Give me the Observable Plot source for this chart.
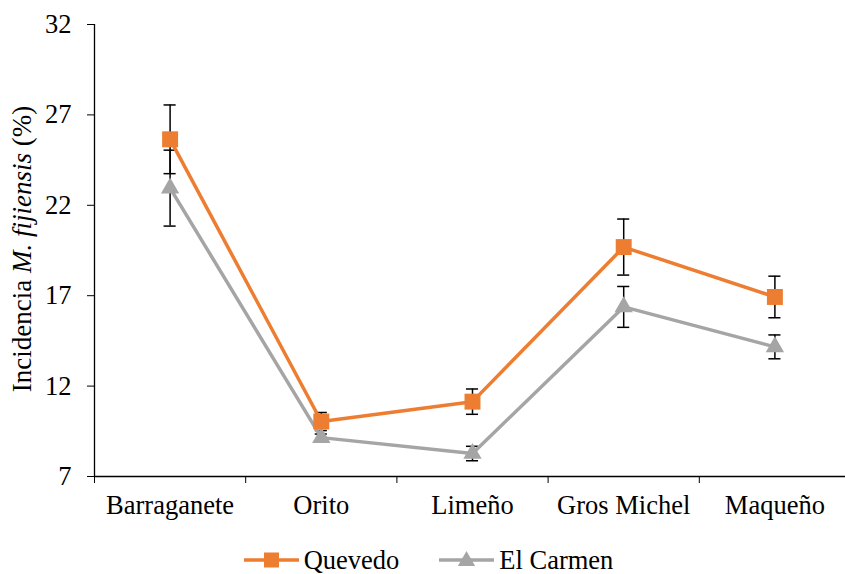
<!DOCTYPE html>
<html>
<head>
<meta charset="utf-8">
<script src="https://cdn.jsdelivr.net/npm/d3@7"></script>
<script src="https://cdn.jsdelivr.net/npm/@observablehq/plot@0.6"></script>
<style>
  html, body { margin: 0; padding: 0; background: #fff; }
  #chart { width: 845px; }
  .legend { display: flex; justify-content: center; align-items: center; gap: 40px; height: 30px; line-height: 1;
    font-family: "Liberation Serif", "Times New Roman", serif; font-size: 26.5px; color: #000; margin-left: 12px; }
  .legend .item { display: flex; align-items: center; gap: 5px; }
</style>
</head>
<body>
<div id="chart"></div>
<script>
const categories = ["Barraganete", "Orito", "Limeño", "Gros Michel", "Maqueño"];
const quevedo = [25.65, 10.04, 11.14, 19.69, 16.93];
const quevedoErr = [1.9, 0.5, 0.7, 1.55, 1.15];
const carmen = [22.95, 9.15, 8.27, 16.38, 14.17];
const carmenErr = [2.1, 0.2, 0.4, 1.13, 0.66];
const yTicks = [7, 12, 17, 22, 27, 32];
const seriesNames = ["Quevedo", "El Carmen"];
const colors = ["#ED7D31", "#A5A5A5"];

const rows = [];
categories.forEach((c, i) => {
  rows.push({i, cat: c, series: seriesNames[0], v: quevedo[i], e: quevedoErr[i]});
  rows.push({i, cat: c, series: seriesNames[1], v: carmen[i], e: carmenErr[i]});
});
const q = rows.filter(d => d.series === seriesNames[0]);
const k = rows.filter(d => d.series === seriesNames[1]);
const capHalf = 0.04;
const boundaries = d3.range(-0.5, categories.length, 1);

const font = "Liberation Serif, Times New Roman, serif";
const fs = 26.5;
const plot = Plot.plot({
  width: 845,
  height: 545,
  marginLeft: 94,
  marginRight: 0,
  marginTop: 24,
  marginBottom: 69,
  style: {fontFamily: font, fontSize: fs + "px", color: "#000", background: "#fff"},
  x: {domain: [-0.5, categories.length - 0.5], range: [94, 850]},
  y: {domain: [7, 32], range: [476, 24]},
  marks: [
    Plot.axisY({ticks: yTicks, tickSize: 7, tickPadding: 16, label: null, fontSize: fs, stroke: "#000"}),
    Plot.axisX({ticks: boundaries, tickSize: 7, tickFormat: () => "", label: null, stroke: "#000"}),
    Plot.axisX({ticks: d3.range(categories.length), tickSize: 0, tickPadding: 19, tickFormat: i => categories[i], label: null, fontSize: fs}),
    Plot.ruleY([7], {stroke: "#000", strokeWidth: 1.3}),
    Plot.ruleX([-0.5], {stroke: "#000", strokeWidth: 1.3}),
    // error bars
    Plot.ruleX(rows, {x: "i", y1: d => d.v - d.e, y2: d => d.v + d.e, stroke: "#000", strokeWidth: 1.5}),
    Plot.ruleY(rows, {y: d => d.v + d.e, x1: d => d.i - capHalf, x2: d => d.i + capHalf, stroke: "#000", strokeWidth: 1.5}),
    Plot.ruleY(rows, {y: d => d.v - d.e, x1: d => d.i - capHalf, x2: d => d.i + capHalf, stroke: "#000", strokeWidth: 1.5}),
    // lines
    Plot.line(k, {x: "i", y: "v", stroke: colors[1], strokeWidth: 3.5}),
    Plot.line(q, {x: "i", y: "v", stroke: colors[0], strokeWidth: 3.5}),
    Plot.dot(k, {x: "i", y: "v", symbol: "triangle", r: 6.8, fill: colors[1], stroke: "none"}),
    Plot.dot(q, {x: "i", y: "v", symbol: "square", r: 9, fill: colors[0], stroke: "none"})
  ]
});

// y-axis label with italic species name
const svg = d3.select(plot);
const t = svg.append("text")
  .attr("transform", "translate(31,249) rotate(-90)")
  .attr("text-anchor", "middle")
  .attr("font-family", font)
  .attr("font-size", 27)
  .attr("fill", "#000");
t.append("tspan").text("Incidencia ");
t.append("tspan").attr("font-style", "italic").text("M. fijiensis");
t.append("tspan").text(" (%)");

document.getElementById("chart").appendChild(plot);

// legend
const legend = document.createElement("div");
legend.className = "legend";
seriesNames.forEach((name, j) => {
  const item = document.createElement("div");
  item.className = "item";
  const s = d3.create("svg").attr("width", 55).attr("height", 20);
  s.append("line").attr("x1", 0).attr("x2", 55).attr("y1", 10).attr("y2", 10)
    .attr("stroke", colors[j]).attr("stroke-width", 3.5);
  if (j === 0) {
    s.append("rect").attr("x", 20).attr("y", 2.5).attr("width", 15).attr("height", 15).attr("fill", colors[j]);
  } else {
    s.append("path").attr("d", d3.symbol(d3.symbolTriangle, 130)()).attr("transform", "translate(27.5,11)").attr("fill", colors[j]);
  }
  item.appendChild(s.node());
  const lab = document.createElement("span");
  lab.textContent = name;
  item.appendChild(lab);
  legend.appendChild(item);
});
document.getElementById("chart").appendChild(legend);
</script>
</body>
</html>
